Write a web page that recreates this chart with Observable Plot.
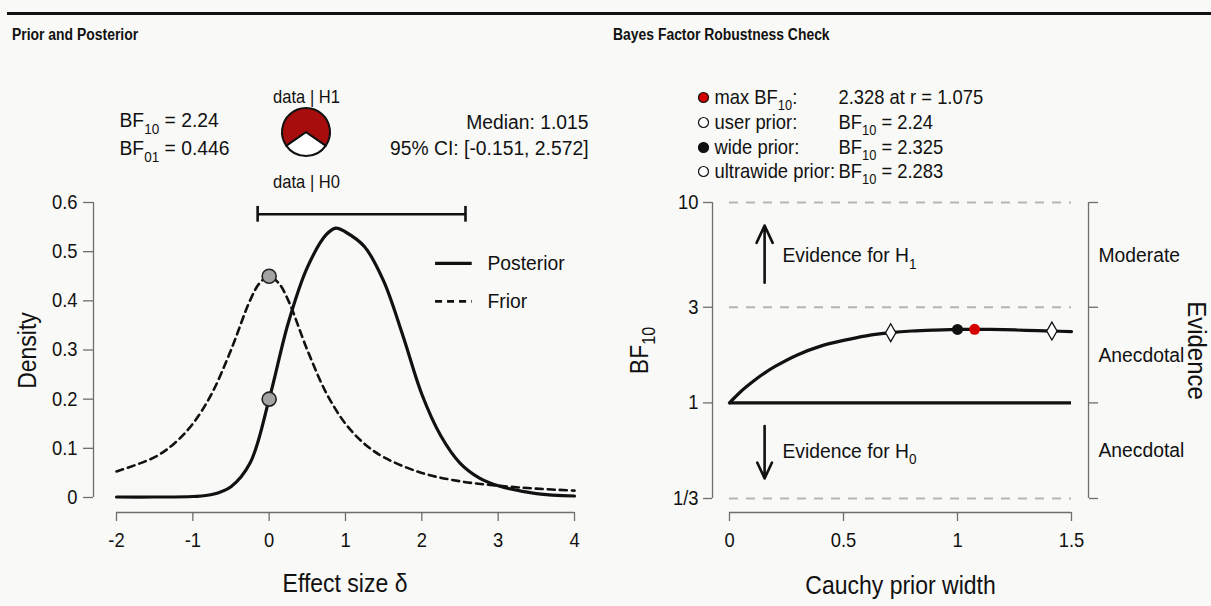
<!DOCTYPE html>
<html><head><meta charset="utf-8">
<script src="https://cdn.jsdelivr.net/npm/d3@7"></script>
<script src="https://cdn.jsdelivr.net/npm/@observablehq/plot@0.6"></script>
<style>
html,body{margin:0;padding:0;background:#f9f9f7;}
#wrap{position:relative;width:1211px;height:606px;overflow:hidden;font-family:"Liberation Sans",Arial,sans-serif;}
.topline{position:absolute;left:7px;right:0;top:12px;height:3px;background:#111;}
.ttl{position:absolute;top:26px;font-size:16px;font-weight:bold;color:#111;line-height:18px;white-space:nowrap;transform:scaleX(0.87);transform-origin:left center;}
.panel{position:absolute;top:0;height:606px;}
</style></head><body>
<div id="wrap">
 <div class="topline"></div>
 <div class="ttl" style="left:12px">Prior and Posterior</div>
 <div class="ttl" style="left:613px">Bayes Factor Robustness Check</div>
 <div class="panel" id="left" style="left:0;width:605px"></div>
 <div class="panel" id="right" style="left:605px;width:606px"></div>
</div>
<script>
// ---------- data ----------
const postDelta = [-2, -1.5, -1, -0.75, -0.5, -0.25, 0, 0.25, 0.5, 0.75, 0.875, 1, 1.25, 1.5, 1.75, 2, 2.25, 2.5, 2.75, 3, 3.5, 4];
const postDensity = [0.001, 0.001, 0.002, 0.006, 0.022, 0.07, 0.20, 0.355, 0.468, 0.535, 0.548, 0.54, 0.51, 0.44, 0.33, 0.21, 0.125, 0.07, 0.04, 0.024, 0.008, 0.003];
const priorDelta = [-2, -1.5, -1.25, -1, -0.75, -0.5, -0.25, -0.125, 0, 0.125, 0.25, 0.5, 0.75, 1, 1.25, 1.5, 2, 2.5, 3, 3.5, 4];
const priorDensity = [0.053, 0.082, 0.109, 0.150, 0.212, 0.300, 0.401, 0.436, 0.450, 0.436, 0.401, 0.300, 0.212, 0.150, 0.109, 0.082, 0.050, 0.033, 0.024, 0.018, 0.014];
const savageDelta = [0, 0];
const savageDensity = [0.45, 0.20];
const ciLower = -0.151, ciUpper = 2.572, ciHeight = 0.576;
const bf10 = 2.24, bf01 = 0.446, median = 1.015;
const leftXTicks = [-2, -1, 0, 1, 2, 3, 4];
const leftYTicks = [0, 0.1, 0.2, 0.3, 0.4, 0.5, 0.6];
const leftLegendNames = ["Posterior", "Frior"];
const leftLegendY = [0.476, 0.399];

const priorWidth = [0, 0.025, 0.05, 0.1, 0.15, 0.2, 0.3, 0.4, 0.5, 0.6, 0.707, 0.8, 0.9, 1, 1.075, 1.2, 1.3, 1.414, 1.5];
const bfCurve = [1, 1.07, 1.14, 1.27, 1.40, 1.52, 1.74, 1.92, 2.05, 2.16, 2.24, 2.285, 2.31, 2.325, 2.328, 2.32, 2.303, 2.283, 2.27];
const markerR = [0.707, 1.414, 1, 1.075];
const markerBF = [2.24, 2.283, 2.325, 2.328];
const markerKind = ["user", "ultrawide", "wide", "max"];
const rightXTicks = [0, 0.5, 1, 1.5];
const rightYTicks = [1/3, 1, 3, 10];
const rightYTickLabels = ["1/3", "1", "3", "10"];
const evidenceBounds = [1/3, 3, 10];
const evidenceLabels = ["Moderate", "Anecdotal", "Anecdotal"];
const evidenceLabelY = [5.48, 1.73, 0.577];
const legendLabels = ["max BF_{10}:", "user prior:", "wide prior:", "ultrawide prior:"];
const legendValues = ["2.328 at r = 1.075", "BF_{10} = 2.24", "BF_{10} = 2.325", "BF_{10} = 2.283"];
const legendFill = ["#d40000", "white", "#111", "white"];

// ---------- style ----------
const FONT = '"Liberation Sans",Arial,sans-serif';
const AX = "#6e6e6e";
const RED = "#a80d0d";
const styleBase = {fontFamily: FONT, fontSize: "20px", color: "#111", background: "transparent", overflow: "visible"};

const post = postDelta.map((x, i) => ({x, y: postDensity[i]}));
const prior = priorDelta.map((x, i) => ({x, y: priorDensity[i]}));
const savage = savageDelta.map((x, i) => ({x, y: savageDensity[i]}));

function pieMark(values, cx, cy, r) {
  return () => {
    const g = d3.create("svg:g").attr("transform", `translate(${cx},${cy})`);
    const total = d3.sum(values);
    const a0 = Math.PI - Math.PI * values[1] / total;
    const arcs = d3.pie().sort(null).startAngle(a0).endAngle(a0 + 2 * Math.PI)([values[1], values[0]]);
    const arc = d3.arc().innerRadius(0).outerRadius(r);
    g.selectAll("path").data(arcs).join("path")
      .attr("d", arc)
      .attr("fill", (d, i) => i === 0 ? "white" : RED)
      .attr("stroke", "#111").attr("stroke-width", 2).attr("stroke-linejoin", "round");
    return g.node();
  };
}

const TL = (text, dx, dy, opts = {}) => Plot.text([text], {frameAnchor: "top-left", dx, dy, textAnchor: "start", lineAnchor: "middle", fontSize: 21, ...opts});

const leftPlot = Plot.plot({
  width: 605, height: 606,
  marginTop: 202, marginBottom: 94, marginLeft: 93, marginRight: 31,
  style: styleBase,
  x: {domain: [-2, 4], insetLeft: 23, label: null},
  y: {domain: [0, 0.6], insetBottom: 15, label: null},
  marks: [
    Plot.axisY({ticks: leftYTicks, tickSize: 10, tickPadding: 6, stroke: AX, strokeWidth: 1.3, fill: "#111", tickFormat: d => String(d), label: null}),
    Plot.axisX({ticks: leftXTicks, tickSize: 9, tickPadding: 11, stroke: AX, strokeWidth: 1.3, fill: "#111", tickFormat: d => String(d), label: null}),
    Plot.ruleX([-2], {y1: 0, y2: 0.6, dx: -23, stroke: AX, strokeWidth: 1.3}),
    Plot.ruleY([0], {x1: -2, x2: 4, dy: 15, stroke: AX, strokeWidth: 1.3}),
    Plot.line(prior, {x: "x", y: "y", curve: "catmull-rom", stroke: "#111", strokeWidth: 2.6, strokeDasharray: "7,5"}),
    Plot.line(post, {x: "x", y: "y", curve: "catmull-rom", stroke: "#111", strokeWidth: 3.2}),
    Plot.dot(savage, {x: "x", y: "y", r: 7, fill: "#a3a3a3", stroke: "#222", strokeWidth: 1.6}),
    Plot.ruleY([ciHeight], {x1: ciLower, x2: ciUpper, stroke: "#111", strokeWidth: 2.6}),
    Plot.ruleX([ciLower, ciUpper], {y1: ciHeight - 0.016, y2: ciHeight + 0.016, stroke: "#111", strokeWidth: 2.6}),
    Plot.ruleY([leftLegendY[0]], {x1: 2.18, x2: 2.66, stroke: "#111", strokeWidth: 3.2}),
    Plot.ruleY([leftLegendY[1]], {x1: 2.18, x2: 2.66, stroke: "#111", strokeWidth: 2.6, strokeDasharray: "7,5"}),
    Plot.text(leftLegendNames, {x: 2.86, y: leftLegendY, textAnchor: "start", lineAnchor: "middle", fontSize: 21}),
    TL(`BF_{10} = ${bf10}`, 26, -82),
    TL(`BF_{01} = ${bf01}`, 26, -54),
    TL(`Median: ${median}`, 495, -80, {textAnchor: "end"}),
    TL(`95% CI: [${ciLower}, ${ciUpper}]`, 495, -54, {textAnchor: "end"}),
    TL("data | H1", 213, -105, {textAnchor: "middle", fontSize: 18}),
    TL("data | H0", 213, -20, {textAnchor: "middle", fontSize: 18}),
    pieMark([bf10, 1], 306, 132, 24),
    Plot.text(["Effect size δ"], {frameAnchor: "bottom", dx: 11, dy: 71, textAnchor: "middle", lineAnchor: "middle", fontSize: 25}),
    Plot.text(["Density"], {frameAnchor: "left", dx: -66, dy: -7, rotate: -90, textAnchor: "middle", lineAnchor: "middle", fontSize: 25})
  ]
});

const legendMarks = [];
legendLabels.forEach((lab, i) => {
  const dy = [97, 122, 147, 171][i] - 202;
  legendMarks.push(Plot.dot([0], {frameAnchor: "top-left", dx: -9, dy, r: 5, fill: legendFill[i], stroke: "#111", strokeWidth: 1.2}));
  legendMarks.push(TL(lab, 2, dy, {fontSize: 20}));
  legendMarks.push(TL(legendValues[i], 126, dy, {fontSize: 20}));
});

const markers = markerR.map((r, i) => ({r, bf: markerBF[i], kind: markerKind[i]}));

const rightPlot = Plot.plot({
  width: 606, height: 606,
  marginTop: 202, marginBottom: 94, marginLeft: 107, marginRight: 123,
  style: styleBase,
  x: {domain: [0, 1.5], insetLeft: 17, insetRight: 17, label: null},
  y: {type: "log", domain: [1/3, 10], insetBottom: 14, label: null},
  marks: [
    Plot.axisY({ticks: rightYTicks, tickSize: 9, tickPadding: 5, stroke: AX, strokeWidth: 1.3, fill: "#111",
      tickFormat: d => rightYTickLabels[rightYTicks.findIndex(t => Math.abs(t - d) < 1e-9)], label: null}),
    Plot.axisY({anchor: "right", ticks: rightYTicks, tickSize: 9, stroke: AX, strokeWidth: 1.3, tickFormat: () => "", label: null}),
    Plot.axisX({ticks: rightXTicks, tickSize: 9, tickPadding: 11, stroke: AX, strokeWidth: 1.3, fill: "#111", tickFormat: d => String(d), label: null}),
    Plot.ruleX([0], {y1: 1/3, y2: 10, dx: -17, stroke: AX, strokeWidth: 1.3}),
    Plot.ruleX([1.5], {y1: 1/3, y2: 10, dx: 17, stroke: AX, strokeWidth: 1.3}),
    Plot.ruleY([1/3], {x1: 0, x2: 1.5, dy: 14, stroke: AX, strokeWidth: 1.3}),
    Plot.ruleY(evidenceBounds, {x1: 0, x2: 1.5, stroke: "#b5b5b5", strokeWidth: 2, strokeDasharray: "9,8"}),
    Plot.ruleY([1], {x1: 0, x2: 1.5, stroke: "#111", strokeWidth: 3.2}),
    Plot.line(priorWidth.map((r, i) => ({r, bf: bfCurve[i]})), {x: "r", y: "bf", curve: "catmull-rom", stroke: "#111", strokeWidth: 3.2}),
    Plot.dot(markers.filter(d => d.kind === "user" || d.kind === "ultrawide"), {x: "r", y: "bf", symbol: "diamond", r: 5.4, fill: "white", stroke: "#111", strokeWidth: 1.3}),
    Plot.dot(markers.filter(d => d.kind === "wide"), {x: "r", y: "bf", r: 5.5, fill: "#111"}),
    Plot.dot(markers.filter(d => d.kind === "max"), {x: "r", y: "bf", r: 5.5, fill: "#d40000"}),
    Plot.arrow([{x: 0.154, y1: 3.98, y2: 7.67}, {x: 0.154, y1: 0.767, y2: 0.42}], {x1: "x", x2: "x", y1: "y1", y2: "y2", stroke: "#111", strokeWidth: 2.6, headLength: 15, headAngle: 50}),
    Plot.text(["Evidence for H_{1}", "Evidence for H_{0}"], {x: 0.232, y: [5.43, 0.575], textAnchor: "start", lineAnchor: "middle", fontSize: 21}),
    Plot.text(evidenceLabels, {x: 1.5, y: evidenceLabelY, dx: 27, textAnchor: "start", lineAnchor: "middle", fontSize: 21}),
    Plot.text(["Evidence"], {frameAnchor: "right", dx: 108, dy: -7, rotate: 90, textAnchor: "middle", lineAnchor: "middle", fontSize: 26}),
    Plot.text(["BF_{10}"], {frameAnchor: "left", dx: -73, dy: -7, rotate: -90, textAnchor: "middle", lineAnchor: "middle", fontSize: 25}),
    Plot.text(["Cauchy prior width"], {frameAnchor: "bottom", dy: 73, textAnchor: "middle", lineAnchor: "middle", fontSize: 25}),
    ...legendMarks
  ]
});

document.getElementById("left").appendChild(leftPlot);
document.getElementById("right").appendChild(rightPlot);

function subscripts(svg) {
  const ns = "http://www.w3.org/2000/svg";
  svg.querySelectorAll("text").forEach(t => {
    if (t.children.length || !t.textContent.includes("_{")) return;
    const s = t.textContent;
    const fs = parseFloat(getComputedStyle(t).fontSize) || 20;
    t.textContent = "";
    const parts = s.split(/_\{([^}]*)\}/);
    const shift = fs * 0.3;
    let down = false;
    parts.forEach((p, i) => {
      if (!p) return;
      const ts = document.createElementNS(ns, "tspan");
      ts.textContent = p;
      if (i % 2) {
        ts.setAttribute("font-size", (fs * 0.7).toFixed(1));
        ts.setAttribute("dy", shift.toFixed(1));
        down = true;
      } else if (down) {
        ts.setAttribute("dy", (-shift).toFixed(1));
        down = false;
      }
      t.appendChild(ts);
    });
  });
}
// the reference lettering is slightly condensed
function condense(svg, s) {
  svg.querySelectorAll("text").forEach(t => {
    const x = parseFloat(t.getAttribute("x")) || 0;
    const y = parseFloat(t.getAttribute("y")) || 0;
    const tr = t.getAttribute("transform") || "";
    t.setAttribute("transform", `${tr} translate(${x},${y}) scale(${s},1) translate(${-x},${-y})`.trim());
  });
}
[leftPlot, rightPlot].forEach(svg => { subscripts(svg); condense(svg, 0.92); });
</script>
</body></html>
